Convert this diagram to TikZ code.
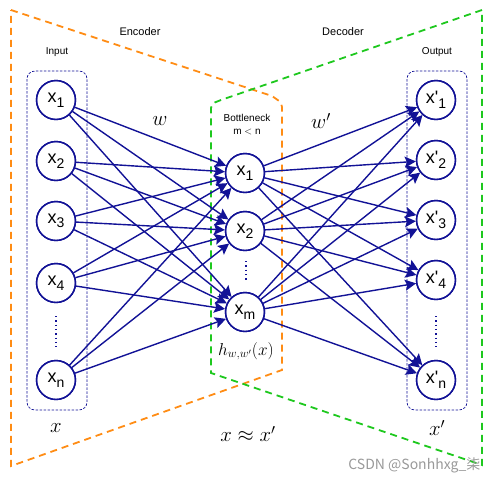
\documentclass[tikz,border=0pt]{standalone}
\usepackage{fontspec}
\setmainfont{Liberation Sans}
\newfontfamily\cjk{Noto Sans CJK SC}
\usetikzlibrary{arrows.meta}
\definecolor{nblue}{RGB}{18,18,150}
\definecolor{lblue}{RGB}{120,120,220}
\definecolor{orng}{RGB}{255,140,20}
\definecolor{grn}{RGB}{30,200,30}
\newcommand{\nx}[1]{x\raisebox{-4.5pt}{\fontsize{14}{14}\selectfont #1}}
\newcommand{\ny}[1]{x\textquotesingle\raisebox{-4.5pt}{\fontsize{14}{14}\selectfont #1}}
\begin{document}
\begin{tikzpicture}[x=1pt,y=-1pt,
  neuron/.style={circle, draw=nblue, line width=1.4pt, fill=white, minimum size=39pt, inner sep=0pt, font=\fontsize{18}{18}\selectfont},
  conn/.style={draw=nblue, line width=1.4pt, -{Stealth[length=11pt,width=11pt,inset=2pt]}},
  enc/.style={draw=orng, line width=1.8pt, dash pattern=on 7pt off 5pt},
  dec/.style={draw=grn, line width=1.8pt, dash pattern=on 7pt off 5pt},
  grpbox/.style={draw=nblue, line width=0.7pt, dash pattern=on 2.5pt off 1.5pt, rounded corners=8pt},
  vdots/.style={draw=nblue, line width=1.2pt, dash pattern=on 1.3pt off 3pt},
  lab/.style={font=\fontsize{11}{13}\selectfont, align=center},
  slab/.style={font=\fontsize{10}{12}\selectfont, align=center},
  mlab/.style={font=\fontsize{20}{20}\selectfont}
]
\useasboundingbox (0,0) rectangle (498,483);

% encoder / decoder outlines
\draw[enc] (11,10) -- (272,96) [rounded corners=4pt] -- (282,103) [sharp corners] -- (282,370) -- (11,466) -- cycle;
\draw[dec] (482,10) -- (221,100) [rounded corners=4pt] -- (211,104) [sharp corners] -- (211,373) -- (482,465) -- cycle;

% group boxes
\draw[grpbox] (27,71) rectangle (87,410);
\draw[grpbox] (407,71) rectangle (467,410);

% labels
\node[lab] (encl) at (140,32) {Encoder};
\node[lab] (decl) at (343,32) {Decoder};
\node[slab] (inl) at (57,52) {Input};
\node[slab] (outl) at (437,52) {Output};
\node[slab] (bnl) at (247,118) {Bottleneck};
\node[slab] (mnl) at (247,132) {m $<$ n};

% input nodes
\node[neuron] (i1) at (56,100) {\nx{1}};
\node[neuron] (i2) at (56,161) {\nx{2}};
\node[neuron] (i3) at (56,221) {\nx{3}};
\node[neuron] (i4) at (56,283) {\nx{4}};
\node[neuron] (in) at (56,380) {\nx{n}};

% middle nodes
\node[neuron] (m1) at (245,173) {\nx{1}};
\node[neuron] (m2) at (245,231) {\nx{2}};
\node[neuron] (mm) at (245,312) {\nx{m}};

% output nodes
\node[neuron] (o1) at (436,100) {\ny{1}};
\node[neuron] (o2) at (436,160) {\ny{2}};
\node[neuron] (o3) at (436,220) {\ny{3}};
\node[neuron] (o4) at (436,280) {\ny{4}};
\node[neuron] (on) at (436,380) {\ny{n}};

% dots
\coordinate (d1a) at (56,316); \coordinate (d1b) at (56,350);
\coordinate (d2a) at (246,261); \coordinate (d2b) at (246,281);
\coordinate (d3a) at (436,316); \coordinate (d3b) at (436,350);
\draw[vdots] (d1a) -- (d1b);
\draw[vdots] (d2a) -- (d2b);
\draw[vdots] (d3a) -- (d3b);

% connections
\foreach \a in {i1,i2,i3,i4,in}
  \foreach \b in {m1,m2,mm}
    \draw[conn] (\a) -- (\b);
\foreach \a in {m1,m2,mm}
  \foreach \b in {o1,o2,o3,o4,on}
    \draw[conn] (\a) -- (\b);

% redraw node outlines on top
\foreach \n in {i1,i2,i3,i4,in,m1,m2,mm,o1,o2,o3,o4,on}
  \draw[nblue, line width=1.4pt] (\n) circle (19.5pt);

% math labels
\node[mlab] (wl) at (160,121) {$w$};
\node[mlab] (wpl) at (321,121) {$w'$};
\node[mlab, font=\fontsize{17}{17}\selectfont] (hl) at (246,351) {$h_{w,w'}(x)$};
\node[mlab] (xl) at (56,428) {$x$};
\node[mlab] (xxl) at (248,434) {$x \approx x'$};
\node[mlab] (xpl) at (437,428) {$x'$};

% watermark
\node[text=black!40, font=\cjk\fontsize{14}{14}\selectfont, anchor=east] (wm) at (484,465) {CSDN @Sonhhxg\_柒};
\end{tikzpicture}
\end{document}
